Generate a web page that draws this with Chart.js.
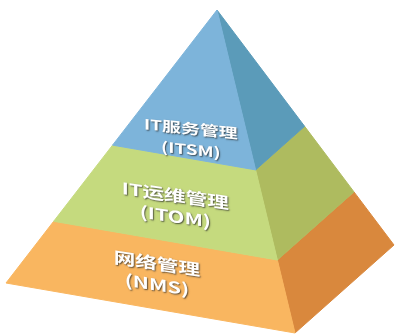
<!DOCTYPE html>
<html>
<head>
<meta charset="utf-8">
<script src="https://cdn.jsdelivr.net/npm/chart.js@4.4.0/dist/chart.umd.min.js"></script>
<style>html,body{margin:0;padding:0;background:#fff}</style>
</head>
<body>
<canvas id="c" width="396" height="335"></canvas>
<script>
// pyramid layers, top to bottom
const layerNames = ['IT服务管理', 'IT运维管理', '网络管理'];
const layerCodes = ['(ITSM)', '(ITOM)', '(NMS)'];
// where each layer ends, as a fraction of the way down the edges
const layerBreaks = [0, 0.495, 0.774, 1];
// pyramid corners in the 396 x 335 frame
const apex = [217, 10];
const baseLeft = [6, 283];
const baseFront = [295, 333];
const baseRight = [394, 245];

const frontColors = ['#7db4da', '#c5da7e', '#f9b660'];
const sideColors = ['#5b9bb9', '#aebb5f', '#d9883d'];

// label placement inside the front face (t down the edges, u across)
const labelT = [0.43, 0.655, 0.885];
const labelU = [0.52, 0.51, 0.495];
const labelSize = [14, 16, 16];
const labelSlope = [0.1, 0.14, 0.15];

function along(p, t) {
  return { x: apex[0] + (p[0] - apex[0]) * t, y: apex[1] + (p[1] - apex[1]) * t };
}

const datasets = [];
for (let i = 0; i < layerNames.length; i++) {
  const t0 = layerBreaks[i], t1 = layerBreaks[i + 1];
  const front = [along(baseLeft, t0), along(baseLeft, t1), along(baseFront, t1), along(baseFront, t0)];
  const side = [along(baseFront, t0), along(baseFront, t1), along(baseRight, t1), along(baseRight, t0)];
  datasets.push({
    label: layerNames[i],
    data: front.concat([front[0]]),
    backgroundColor: frontColors[i],
    borderColor: frontColors[i],
    borderWidth: 1,
    fill: 'shape'
  });
  datasets.push({
    label: layerNames[i] + ' side',
    data: side.concat([side[0]]),
    backgroundColor: sideColors[i],
    borderColor: sideColors[i],
    borderWidth: 1,
    fill: 'shape'
  });
}

const layerLabels = {
  id: 'layerLabels',
  afterDatasetsDraw(chart) {
    const ctx = chart.ctx;
    const xs = chart.scales.x, ys = chart.scales.y;
    for (let i = 0; i < layerNames.length; i++) {
      const a = along(baseLeft, labelT[i]);
      const b = along(baseFront, labelT[i]);
      const px = xs.getPixelForValue(a.x + (b.x - a.x) * labelU[i]);
      const py = ys.getPixelForValue(a.y + (b.y - a.y) * labelU[i]);
      const k = 1.35, s = labelSlope[i];
      ctx.save();
      ctx.transform(k, s * k, 0, 1, px, py);
      ctx.font = 'bold ' + labelSize[i] + 'px "Noto Sans CJK SC", sans-serif';
      ctx.textAlign = 'center';
      ctx.textBaseline = 'middle';
      ctx.fillStyle = '#ffffff';
      ctx.shadowColor = 'rgba(40,40,40,0.75)';
      ctx.shadowOffsetX = 1;
      ctx.shadowOffsetY = 1;
      ctx.shadowBlur = 1.5;
      ctx.fillText(layerNames[i], 0, -10);
      ctx.fillText(layerCodes[i], 0, 11);
      ctx.restore();
    }
  }
};

new Chart(document.getElementById('c'), {
  type: 'scatter',
  data: { datasets },
  options: {
    responsive: false,
    animation: false,
    showLine: true,
    layout: { padding: 0 },
    elements: { point: { radius: 0, hoverRadius: 0 }, line: { tension: 0 } },
    plugins: { legend: { display: false }, tooltip: { enabled: false } },
    scales: {
      x: { type: 'linear', min: 0, max: 396, display: false },
      y: { type: 'linear', min: 0, max: 335, reverse: true, display: false }
    }
  },
  plugins: [layerLabels]
});
</script>
</body>
</html>
